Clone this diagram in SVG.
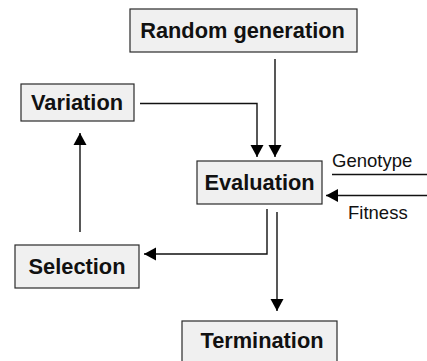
<svg xmlns="http://www.w3.org/2000/svg" width="427" height="361" viewBox="0 0 427 361">
  <style>
    .box { fill: #f0f0f0; stroke: #2a2a2a; stroke-width: 1.2; }
    .label { font-family: "Liberation Sans", Arial, sans-serif; font-weight: bold; font-size: 21.8px; fill: #111111; text-anchor: middle; }
    .small { font-family: "Liberation Sans", Arial, sans-serif; font-size: 18.5px; fill: #111111; }
    .wire { fill: none; stroke: #111111; stroke-width: 1.4; }
  </style>
  <defs>
    <marker id="arrow" markerUnits="userSpaceOnUse" markerWidth="14" markerHeight="14" viewBox="0 0 14 14" refX="13" refY="7" orient="auto">
      <path d="M1 0.5 L13 7 L1 13.5 Z" fill="#000000"/>
    </marker>
  </defs>

  <rect width="427" height="361" fill="#ffffff"/>

  <g id="connectors">
    <path class="wire" d="M275 59 V157" marker-end="url(#arrow)"/>
    <path class="wire" d="M140 103.5 H257 V157" marker-end="url(#arrow)"/>
    <path class="wire" d="M267 209 V254 H144" marker-end="url(#arrow)"/>
    <path class="wire" d="M277 212 V311" marker-end="url(#arrow)"/>
    <path class="wire" d="M80 232 V133" marker-end="url(#arrow)"/>
    <path class="wire" d="M332 174.5 H427"/>
    <path class="wire" d="M427 195.5 H326" marker-end="url(#arrow)"/>
    <text class="small" x="332" y="166.5">Genotype</text>
    <text class="small" x="348" y="219">Fitness</text>
  </g>

  <g id="random-generation">
    <rect class="box" x="130" y="9" width="227" height="43"/>
    <text class="label" x="242.5" y="37.5">Random generation</text>
  </g>

  <g id="variation">
    <rect class="box" x="21" y="84" width="113" height="37"/>
    <text class="label" x="77" y="109.5">Variation</text>
  </g>

  <g id="evaluation">
    <rect class="box" x="197" y="161" width="125" height="43"/>
    <text class="label" x="259.5" y="190">Evaluation</text>
  </g>

  <g id="selection">
    <rect class="box" x="15" y="245" width="124" height="43"/>
    <text class="label" x="77" y="273.5">Selection</text>
  </g>

  <g id="termination">
    <rect class="box" x="182" y="321" width="155" height="44"/>
    <text class="label" x="262" y="347.5">Termination</text>
  </g>
</svg>
